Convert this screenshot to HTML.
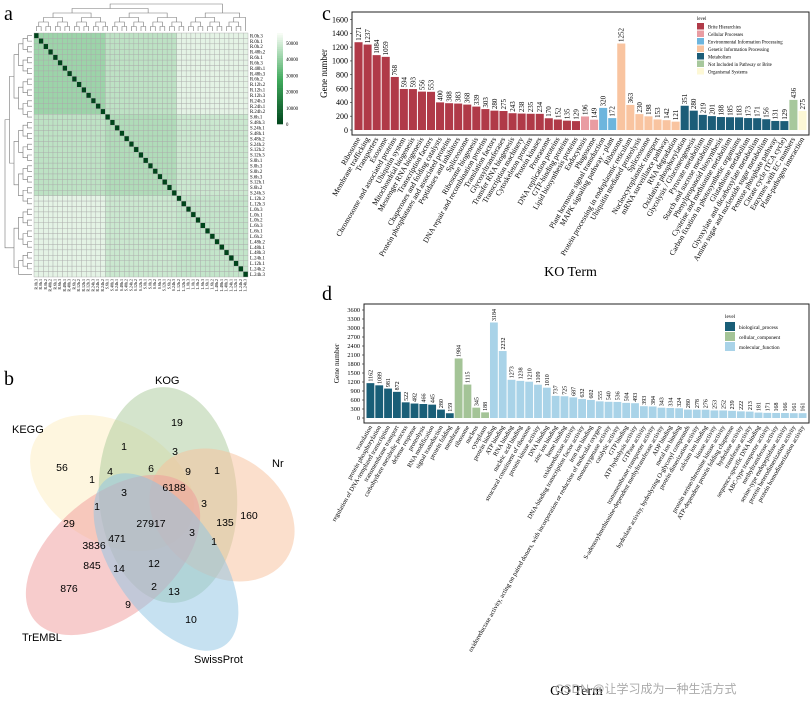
<!DOCTYPE html>
<html><head><meta charset="utf-8"><style>
html,body{margin:0;padding:0;background:#fff;}
svg{display:block;font-family:"Liberation Serif",serif;}
</style></head>
<body>
<svg id="fig" width="811" height="702" viewBox="0 0 811 702" xmlns="http://www.w3.org/2000/svg">
<text x="4" y="20" font-size="20">a</text>
<text x="4" y="385" font-size="20">b</text>
<text x="322" y="20" font-size="20">c</text>
<text x="322" y="300" font-size="20">d</text>
<g id="heat"></g>
<g id="venn"></g>
<g id="ko"></g>
<g id="go"></g>
<text x="555" y="693" font-size="12" fill="#aaa" font-family="Liberation Sans, Noto Sans CJK SC, sans-serif">CSDN @让学习成为一种生活方式</text>
</svg>
<script>
const NS="http://www.w3.org/2000/svg";
function mk(parent,tag,attrs,text){const e=document.createElementNS(NS,tag);for(const k in attrs)e.setAttribute(k,attrs[k]);if(text!==undefined)e.textContent=text;parent.appendChild(e);return e;}

/* ---------- Panel a: heatmap ---------- */
const sampleNames=["R.0h.3","R.0h.1","R.0h.2","R.48h.2","R.6h.1","R.6h.3","R.48h.1","R.48h.3","R.6h.2","R.12h.2","R.12h.1","R.12h.3","R.24h.3","R.24h.1","R.24h.2","S.6h.1","S.48h.3","S.24h.1","S.48h.1","S.48h.2","S.24h.2","S.12h.2","S.12h.3","S.0h.1","S.0h.3","S.0h.2","S.6h.3","S.12h.1","S.6h.2","S.24h.3","L.12h.2","L.12h.3","L.0h.3","L.0h.1","L.0h.2","L.6h.3","L.6h.1","L.6h.2","L.48h.2","L.48h.1","L.48h.3","L.24h.1","L.12h.1","L.24h.2","L.24h.3"];
const tissueGroups=["R","S","L"];
const groupDistance=[[42000,47000,53000],[47000,45000,49000],[53000,49000,48000]];
const colorbarTicks=[0,10000,20000,30000,40000,50000];
(function(){
 const g=document.getElementById('heat');
 const x0=34,y0=33,W=214,H=244,n=sampleNames.length,cw=W/n,ch=H/n,vmax=56000;
 function col(v){const t=Math.min(1,v/vmax);const a=[0,68,27],m=[65,171,93],b=[247,252,245];let c;
  if(t<0.5){const u=t/0.5;c=a.map((q,i)=>q+(m[i]-q)*u);}else{const u=(t-0.5)/0.5;c=m.map((q,i)=>q+(b[i]-q)*u);}
  return `rgb(${c.map(Math.round).join(',')})`;}
 const gi=s=>tissueGroups.indexOf(s[0]);
 for(let i=0;i<n;i++)for(let j=0;j<n;j++){
  const v=i===j?0:groupDistance[gi(sampleNames[i])][gi(sampleNames[j])];
  const r=mk(g,'rect',{x:x0+j*cw,y:y0+i*ch,width:cw,height:ch,fill:col(v),stroke:'#aaa','stroke-width':0.4});
  
  
 }
 for(let i=0;i<n;i++){
  const t=mk(g,'text',{x:x0+W+2,y:y0+i*ch+ch*0.8,'font-size':4.8},sampleNames[i]);
  
  
  const b=mk(g,'text',{x:0,y:0,'font-size':4,transform:`translate(${x0+i*cw+cw*0.7},${y0+H+2}) rotate(-90)`,'text-anchor':'end'},sampleNames[i]);
  
  
 }
 function dendro(horizontal){
  let nodes=sampleNames.map((s,i)=>({p:i+0.5,h:0}));let lvl=1;
  while(nodes.length>1){const nn=[];for(let k=0;k<nodes.length;k+=2){
    if(k+1>=nodes.length){nn.push(nodes[k]);continue;}
    const a=nodes[k],b=nodes[k+1],h=lvl;
    const pa=horizontal?[x0+a.p*cw,y0-2-a.h*4.5]:[x0-2-a.h*4.5,y0+a.p*ch];
    const pb=horizontal?[x0+b.p*cw,y0-2-b.h*4.5]:[x0-2-b.h*4.5,y0+b.p*ch];
    const hp=horizontal?(y0-2-h*4.5):(x0-2-h*4.5);
    const d=horizontal?`M${pa[0]},${pa[1]}V${hp}H${pb[0]}V${pb[1]}`:`M${pa[0]},${pa[1]}H${hp}V${pb[1]}H${pb[0]}`;
    const p=mk(g,'path',{d,fill:'none',stroke:'#777','stroke-width':0.6});
    
    
    nn.push({p:(a.p+b.p)/2,h});}
   nodes=nn;lvl++;}
 }
 dendro(true);dendro(false);
 const cbx=277,cby=33,cbh=91;
 for(let k=0;k<40;k++){const v=vmax*(1-k/40);const r=mk(g,'rect',{x:cbx,y:cby+k*cbh/40,width:6,height:cbh/40+0.3,fill:col(v)});
  
  }
 colorbarTicks.forEach(v=>{const t=mk(g,'text',{x:cbx+9,y:cby+cbh*(1-v/vmax)+2,'font-size':4.8},String(v));
  
  });
})();

/* ---------- Panel b: Venn ---------- */
const vennSets=["KEGG","KOG","Nr","TrEMBL","SwissProt"];
const vennCounts=[56,19,160,876,10,1,3,9,6,4,1,3,6188,1,3,1,135,27917,3,1,29,471,3836,845,14,12,2,13,9];
(function(){
 const g=document.getElementById('venn');
 const shapes=[
  {cx:112,cy:483,rx:88,ry:60,rot:30,fill:'#fdeec0'},
  {cx:168,cy:495,rx:69,ry:108,rot:-4,fill:'#a9c99a'},
  {cx:222,cy:515,rx:78,ry:60,rot:35,fill:'#f8bf9a'},
  {cx:113,cy:555,rx:102,ry:60,rot:-40,fill:'#ef9a9a'},
  {cx:166,cy:562,rx:102,ry:52,rot:55,fill:'#8ec3e3'}];
 shapes.forEach((s,i)=>{const e=mk(g,'ellipse',{cx:s.cx,cy:s.cy,rx:s.rx,ry:s.ry,transform:`rotate(${s.rot} ${s.cx} ${s.cy})`,fill:s.fill,'fill-opacity':0.5});
  
  });
 const setLabelPos=[[12,433],[155,384],[272,467],[22,641],[194,663]];
 vennSets.forEach((s,i)=>{const t=mk(g,'text',{x:setLabelPos[i][0],y:setLabelPos[i][1],'font-size':11,'font-family':'Liberation Sans, sans-serif'},s);
  
  });
 const pos=[[62,471],[177,426],[249,519],[69,592],[191,623],[124,450],[175,455],[188,475],[151,472],[110,475],[92,483],[124,496],[174,491],[97,510],[204,507],[217,474],[225,526],[151,527],[192,536],[214,545],[69,527],[117,542],[94,549],[92,569],[119,572],[154,567],[154,590],[174,595],[128,608]];
 vennCounts.forEach((v,i)=>{const t=mk(g,'text',{x:pos[i][0],y:pos[i][1],'font-size':10.5,'font-family':'Liberation Sans, sans-serif','text-anchor':'middle'},String(v));
  
  });
})();

/* ---------- Panel c: KO bars ---------- */
const koTerms=["Ribosome","Membrane trafficking","Transporters","Exosome","Chromosome and associated proteins","Ubiquitin system","Mitochondrial biogenesis","Messenger RNA biogenesis","Transcription factors","Chaperones and folding catalysts","Protein phosphatases and associated proteins","Peptidases and inhibitors","Spliceosome","Ribosome biogenesis","DNA repair and recombination proteins","Translation factors","Glycosyltransferases","Transfer RNA biogenesis","Transcription machinery","Cytoskeleton proteins","Protein kinases","Proteasome","DNA replication proteins","GTP-binding proteins","Lipid biosynthesis proteins","Endocytosis","Phagosome","Plant hormone signal transduction","MAPK signaling pathway - plant","Ribosome","Protein processing in endoplasmic reticulum","Ubiquitin mediated proteolysis","Spliceosome","Nucleocytoplasmic transport","mRNA surveillance pathway","RNA degradation","Oxidative phosphorylation","Glycolysis / Gluconeogenesis","Pyruvate metabolism","Starch and sucrose metabolism","Phenylpropanoid biosynthesis","Cysteine and methionine metabolism","Carbon fixation in photosynthetic organisms","Glutathione metabolism","Glyoxylate and dicarboxylate metabolism","Amino sugar and nucleotide sugar metabolism","Pentose phosphate pathway","Citrate cycle (TCA cycle)","Enzymes with EC numbers","Plant-pathogen interaction"];
const koValues=[1271,1237,1084,1059,768,594,593,556,553,400,388,383,368,339,303,280,275,243,238,235,234,170,152,135,129,196,149,320,172,1252,363,230,198,153,142,121,351,280,219,201,188,185,183,173,171,156,131,129,436,275];
const koLevelIdx=[0,0,0,0,0,0,0,0,0,0,0,0,0,0,0,0,0,0,0,0,0,0,0,0,0,1,1,2,2,3,3,3,3,3,3,3,4,4,4,4,4,4,4,4,4,4,4,4,5,6];
const koLevels=["Brite Hierarchies","Cellular Processes","Environmental Information Processing","Genetic Information Processing","Metabolism","Not Included in Pathway or Brite","Organismal Systems"];
const koTicks=[0,200,400,600,800,1000,1200,1400,1600];
/* ---------- Panel d: GO bars ---------- */
const goTerms=["translation","protein phosphorylation","regulation of DNA-templated transcription","transmembrane transport","carbohydrate metabolic process","defense response","proteolysis","RNA modification","signal transduction","protein folding","membrane","ribosome","nucleus","cytoplasm","protein binding","ATP binding","RNA binding","nucleic acid binding","structural constituent of ribosome","protein kinase activity","DNA binding","zinc ion binding","heme binding","oxidoreductase activity","DNA-binding transcription factor activity","iron ion binding","oxidoreductase activity, acting on paired donors, with incorporation or reduction of molecular oxygen","monooxygenase activity","catalytic activity","GTP binding","ATP hydrolysis activity","GTPase activity","transmembrane transporter activity","S-adenosylmethionine-dependent methyltransferase activity","ADP binding","metal ion binding","hydrolase activity, hydrolyzing O-glycosyl compounds","protein dimerization activity","calcium ion binding","kinase activity","protein serine/threonine kinase activity","ATP-dependent protein folding chaperone","hydrolase activity","transferase activity","sequence-specific DNA binding","ABC-type transporter activity","methyltransferase activity","serine-type endopeptidase activity","protein heterodimerization activity","protein homodimerization activity"];
const goValues=[1162,1089,981,872,522,482,466,445,280,159,1984,1115,345,188,3184,2232,1273,1238,1210,1109,1010,737,725,687,632,602,555,540,536,504,493,393,384,343,334,324,280,278,276,253,252,239,222,213,181,171,168,166,161,161];
const goLevelIdx=[0,0,0,0,0,0,0,0,0,0,1,1,1,1,2,2,2,2,2,2,2,2,2,2,2,2,2,2,2,2,2,2,2,2,2,2,2,2,2,2,2,2,2,2,2,2,2,2,2,2];
const goLevels=["biological_process","cellular_component","molecular_function"];
const goTicks=[0,300,600,900,1200,1500,1800,2100,2400,2700,3000,3300,3600];

function barChart(g,cfg){
 const {L,R,T,B,y0,vmax,ymaxPx,terms,values,idx,levels,colors,ticks,tfs,lfs,vfs,title,titleY,leg}=cfg;
 const ys=v=>y0-(y0-ymaxPx)*v/vmax;
 const fr=mk(g,'rect',{x:L,y:T,width:R-L,height:B-T,fill:'none',stroke:'#222','stroke-width':1});
 
 
 ticks.forEach(v=>{const t=mk(g,'text',{x:L-4,y:ys(v)+tfs*0.35,'font-size':tfs,'text-anchor':'end'},String(v));
  
  
  const l=mk(g,'line',{x1:L-2,x2:L,y1:ys(v),y2:ys(v),stroke:'#222','stroke-width':0.6});
  
  });
 const yl=mk(g,'text',{x:0,y:0,'font-size':tfs+1,'text-anchor':'middle',transform:`translate(${L-cfg.ylOff},${(T+B)/2}) rotate(-90)`},'Gene number');
 
 
 const n=values.length,band=(R-L-4)/n;
 values.forEach((v,i)=>{const x=L+2+i*band;
  const r=mk(g,'rect',{x:x+0.5,y:ys(v),width:band-1,height:y0-ys(v),fill:colors[idx[i]]});
  
  
  const c=x+band/2;
  const vt=mk(g,'text',{x:0,y:0,'font-size':vfs,transform:`translate(${c+vfs*0.35},${ys(v)-1.5}) rotate(-90)`},String(v));
  
  
  const lt=mk(g,'text',{x:0,y:0,'font-size':lfs,'text-anchor':'end',transform:`translate(${c+2},${B+4}) rotate(-60)`},terms[i]);
  
  });
 const tt=mk(g,'text',{x:(L+R)/2-10,y:titleY,'font-size':14,'text-anchor':'middle'},title);
 
 
 const lh=mk(g,'text',{x:leg.x,y:leg.y,'font-size':leg.fs},'level');
 
 
 levels.forEach((s,i)=>{const yy=leg.y+leg.dy*(i+0.4);
  const sw=mk(g,'rect',{x:leg.x,y:yy,width:leg.sw,height:leg.dy-1,fill:colors[i]});
  
  
  const t=mk(g,'text',{x:leg.x+leg.sw+4,y:yy+leg.dy*0.7,'font-size':leg.fs},s);
  
  });
}
barChart(document.getElementById('ko'),{L:352,R:809,T:12,B:135,y0:130,vmax:1600,ymaxPx:19.5,terms:koTerms,values:koValues,idx:koLevelIdx,levels:koLevels,
 colors:['#b03a48','#e99ca2','#6db5dd','#f9c4a0','#1c5d78','#a7c89c','#fdf8d6'],ticks:koTicks,tfs:8,lfs:7.6,vfs:7,title:'KO Term',titleY:276,ylOff:25,
 leg:{x:697,y:20,fs:4.8,dy:7.5,sw:7}});
barChart(document.getElementById('go'),{L:364,R:809,T:304,B:423,y0:418,vmax:3600,ymaxPx:310,terms:goTerms,values:goValues,idx:goLevelIdx,levels:goLevels,
 colors:['#195e77','#a4c497','#a9d3e8'],ticks:goTicks,tfs:6.3,lfs:6.4,vfs:6,title:'GO Term',titleY:695,ylOff:25,
 leg:{x:725,y:318,fs:5.2,dy:10,sw:10}});
</script>
</body></html>
